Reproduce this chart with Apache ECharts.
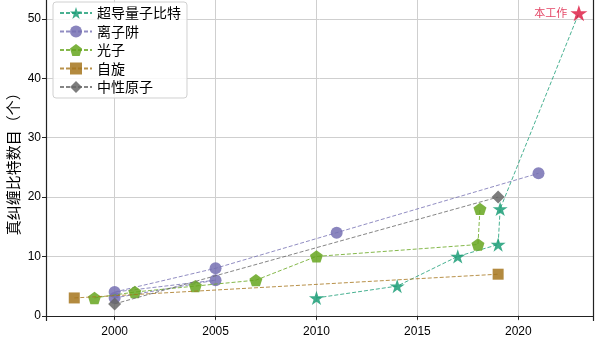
<!DOCTYPE html>
<html>
<head>
<meta charset="utf-8">
<script src="https://cdn.jsdelivr.net/npm/echarts@6/dist/echarts.min.js"></script>
<style>html,body{margin:0;padding:0;background:#fff}#c{width:600px;height:338px}</style>
</head>
<body>
<div id="c"></div>
<script>
const seriesNames = ['超导量子比特', '离子阱', '光子', '自旋', '中性原子'];
const scYears = [2010, 2014, 2017, 2019, 2019.1, 2023];
const scQubits = [3, 5, 10, 12, 18, 51];
const ionYears = [2000, 2005, 2000, 2005, 2011, 2021];
const ionQubits = [3, 6, 4, 8, 14, 24];
const phYears = [1999, 2001, 2004, 2007, 2010, 2018, 2018.1];
const phQubits = [3, 4, 5, 6, 10, 12, 18];
const spinYears = [1998, 2019];
const spinQubits = [3, 7];
const naYears = [2000, 2019];
const naQubits = [2, 20];
const xTicks = [2000, 2005, 2010, 2015, 2020];
const yTicks = [0, 10, 20, 30, 40, 50];
const highlightLabel = '本工作';
const yTitle = '真纠缠比特数目（个）';

const STAR = 'path://M50 0 L61.23 34.55 L97.55 34.55 L68.17 55.9 L79.39 90.45 L50 69.1 L20.61 90.45 L31.83 55.9 L2.45 34.55 L38.77 34.55 Z';
const PENT = 'path://M50 0 L97.55 34.55 L79.39 90.45 L20.61 90.45 L2.45 34.55 Z';
const DIAM = 'path://M50 0 L100 50 L50 100 L0 50 Z';

const colors = ['#1b9e77', '#7570b3', '#66a61e', '#a6761d', '#666666'];
const hiColor = '#dc143c';
const font = '"Noto Sans CJK SC", "DejaVu Sans", sans-serif';
const numFont = '"Liberation Sans", "DejaVu Sans", sans-serif';

function pairs(xs, ys) { return xs.map((x, i) => [x, ys[i]]); }

function mkSeries(i, data, symbol, size) {
  return {
    name: seriesNames[i], type: 'line', data: data, symbol: symbol, symbolSize: size,
    symbolKeepAspect: true,
    lineStyle: { color: colors[i], width: 1, type: [4, 2], opacity: 0.8 },
    itemStyle: { color: colors[i], opacity: 0.85 },
    emphasis: { disabled: true }, animation: false, z: 3 + i
  };
}

const scData = pairs(scYears, scQubits).map((p, i) => {
  if (i === scYears.length - 1) {
    return { value: p, symbolSize: 17, itemStyle: { color: hiColor, opacity: 0.8 },
      label: { show: true, position: 'left', formatter: highlightLabel, color: hiColor, opacity: 0.8,
        fontSize: 11, fontFamily: font, distance: 3 } };
  }
  return { value: p };
});

const chart = echarts.init(document.getElementById('c'), null, { renderer: 'canvas' });
chart.setOption({
  animation: false,
  grid: { left: 46, right: 7, top: 0, bottom: 17.5, containLabel: false, outerBoundsMode: 'none' },
  legend: {
    orient: 'vertical', left: 53, top: 2,
    data: seriesNames,
    itemWidth: 32, itemHeight: 15, itemGap: 4.5,
    padding: [4, 6, 4, 6],
    backgroundColor: 'rgba(255,255,255,0.85)', borderColor: '#d0d0d0', borderWidth: 1, borderRadius: 3,
    textStyle: { fontSize: 14, fontFamily: font, color: '#000' }
  },
  xAxis: {
    type: 'value', min: 1996.6, max: 2023.7,
    axisLine: { show: true, lineStyle: { color: '#222', width: 1.2 } },
    axisTick: { show: true, length: 4, customValues: xTicks, lineStyle: { color: '#222' } },
    axisLabel: { customValues: xTicks, fontSize: 12, color: '#000', fontFamily: numFont, margin: 5,
      formatter: v => String(v) },
    splitLine: { show: true, lineStyle: { color: '#cfcfcf', width: 1 } }
  },
  yAxis: [{
    type: 'value', min: -0.8, max: 53.2,
    name: yTitle, nameLocation: 'middle', nameGap: 25, nameMoveOverlap: false,
    nameTextStyle: { fontSize: 15, fontFamily: font, color: '#000' },
    axisLine: { show: true, lineStyle: { color: '#222', width: 1.2 } },
    axisTick: { show: true, length: 4, customValues: yTicks, lineStyle: { color: '#222' } },
    axisLabel: { customValues: yTicks, fontSize: 12, color: '#000', fontFamily: numFont, margin: 5,
      formatter: v => String(v) },
    splitLine: { show: true, lineStyle: { color: '#cfcfcf', width: 1 } }
  }, {
    type: 'value', min: -0.8, max: 53.2, position: 'right',
    axisLine: { show: true, lineStyle: { color: '#222', width: 1.2 } },
    axisTick: { show: false }, axisLabel: { show: false }, splitLine: { show: false }
  }],
  series: [
    mkSeries(0, scData, STAR, 15),
    mkSeries(1, pairs(ionYears, ionQubits), 'circle', 12),
    mkSeries(2, pairs(phYears, phQubits), PENT, 13),
    mkSeries(3, pairs(spinYears, spinQubits), 'rect', 11),
    mkSeries(4, pairs(naYears, naQubits), DIAM, 13)
  ]
});
</script>
</body>
</html>
